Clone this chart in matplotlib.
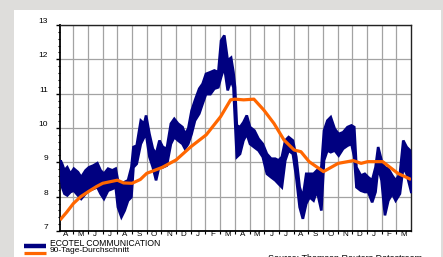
import matplotlib
matplotlib.use("Agg")
import matplotlib.pyplot as plt
from matplotlib.lines import Line2D
from matplotlib.patches import Rectangle
import numpy as np

# ---- data (x in months from start of April, year 1) ----
t = [0.09, 0.2, 0.36, 0.55, 0.77, 1.0, 1.28, 1.5, 1.8, 2.03, 2.32, 2.6, 2.82, 3.05, 3.33, 3.62, 3.85,
     4.0, 4.24, 4.46, 4.69, 4.92, 5.06, 5.28, 5.56, 5.79, 5.92, 6.15, 6.38, 6.6, 6.83, 7.06, 7.33,
     7.61, 7.84, 8.1, 8.4, 8.57, 8.79, 9.02, 9.25, 9.54, 9.77, 10.0, 10.3, 10.57, 10.84, 11.03,
     11.25, 11.48, 11.71, 11.87, 11.98, 12.1, 12.32, 12.55, 12.78, 13.0, 13.3, 13.58, 13.87, 14.15,
     14.44, 14.72, 14.94, 15.17, 15.4, 15.63, 15.92, 16.15, 16.38, 16.6, 16.83, 17.06, 17.33, 17.56,
     17.86, 18.04, 18.27, 18.5, 18.77, 19.04, 19.34, 19.64, 19.91, 20.1, 20.25, 20.55, 20.82, 21.05,
     21.32, 21.55, 21.73, 21.96, 22.19, 22.42, 22.69, 22.92, 23.21, 23.44, 23.67, 23.9, 24.0]
high = [9.07, 8.97, 8.78, 8.87, 8.68, 8.83, 8.73, 8.58, 8.78, 8.87, 8.92, 8.99, 8.78, 8.68, 8.83, 8.78, 8.83,
        8.49, 8.39, 8.44, 8.49, 8.87, 9.46, 9.50, 10.23, 10.14, 10.38, 9.84, 9.41, 9.26, 9.65, 9.46, 9.41,
        10.14, 10.28, 10.14, 10.04, 9.84, 9.99, 10.52, 10.82, 11.16, 11.30, 11.59, 11.64, 11.69, 11.64, 12.56,
        12.71, 11.98, 12.06, 11.64, 11.20, 10.09, 10.04, 10.18, 10.38, 10.04, 9.94, 9.70, 9.55, 9.26,
        9.12, 9.12, 9.07, 9.17, 9.65, 9.75, 9.65, 9.17, 8.29, 7.99, 8.68, 8.68, 8.68, 8.78,
        8.87, 9.94, 10.23, 10.33, 9.99, 9.84, 9.89, 10.04, 10.09, 10.04, 8.87, 8.63, 8.68, 8.58,
        8.49, 8.87, 9.46, 9.07, 8.87, 8.83, 8.63, 8.49, 8.68, 9.65, 9.46, 9.36, 8.58]
low = [8.68, 8.29, 8.10, 8.05, 8.15, 8.19, 8.05, 7.95, 8.10, 8.19, 8.24, 8.29, 8.10, 7.95, 8.19, 8.24, 8.29,
       7.71, 7.42, 7.61, 7.90, 8.00, 8.87, 8.97, 9.55, 9.75, 9.84, 9.17, 8.87, 8.49, 8.92, 8.87, 8.92,
       9.55, 9.75, 9.65, 9.55, 9.41, 9.55, 9.84, 10.23, 10.43, 10.72, 11.00, 11.00, 11.16, 11.20, 11.50,
       11.79, 11.11, 11.40, 11.20, 10.23, 9.17, 9.26, 9.65, 9.84, 9.55, 9.45, 9.36, 9.17, 8.68,
       8.58, 8.49, 8.39, 8.29, 9.07, 9.36, 9.26, 8.58, 7.71, 7.37, 7.81, 8.00, 7.90, 8.19,
       7.61, 9.07, 9.36, 9.31, 9.36, 9.21, 9.41, 9.50, 9.55, 9.17, 8.29, 8.19, 8.15, 8.15,
       7.85, 8.15, 8.87, 8.49, 7.47, 7.90, 8.10, 7.90, 8.10, 8.87, 8.68, 8.29, 8.12]

ma_t = [0.09, 0.55, 1.0, 1.5, 2.03, 2.6, 3.0, 4.0, 4.42, 5.0, 5.56, 6.0, 7.04, 8.0, 9.02, 10.05, 11.03,
        11.71, 12.0, 12.6, 13.3, 13.98, 14.67, 15.35, 16.04, 16.5, 17.06, 18.04, 19.04, 20.07, 20.6,
        21.05, 22.07, 23.1, 24.0]
ma = [7.32, 7.55, 7.8, 8.0, 8.15, 8.3, 8.39, 8.48, 8.4, 8.39, 8.5, 8.68, 8.85, 9.07, 9.46, 9.8, 10.33,
      10.82, 10.84, 10.82, 10.84, 10.52, 10.13, 9.65, 9.36, 9.31, 9.02, 8.73, 8.97, 9.05, 8.97,
      9.02, 9.02, 8.68, 8.5]

month_labels = ["A", "M", "J", "J", "A", "S", "O", "N", "D", "J", "F", "M",
                "A", "M", "J", "J", "A", "S", "O", "N", "D", "J", "F", "M"]
y_ticks = [7, 8, 9, 10, 11, 12, 13]
series_names = ["ECOTEL COMMUNICATION", "90-Tage-Durchschnitt"]
source_text = "Source: Thomson Reuters Datastream"

BLUE = "#000080"
ORANGE = "#ff6600"
W, H = 443, 257

plt.rcParams['font.family'] = ['Liberation Sans', 'DejaVu Sans']
fig = plt.figure(figsize=(W / 100, H / 100), dpi=100)
fig.patch.set_facecolor("#dedddb")
fig.add_artist(Rectangle((14 / W, 0), (441 - 14) / W, 1 - 10 / H, transform=fig.transFigure,
                         facecolor="white", edgecolor="none", zorder=0))

ax = fig.add_axes([60 / W, 1 - 231 / H, (411 - 60) / W, (231 - 25) / H])
ax.set_facecolor("white")

ax.fill_between(t, low, high, color=BLUE, lw=1.9, edgecolor=BLUE, zorder=3, joinstyle='miter')
ax.plot(ma_t, ma, color=ORANGE, lw=2.3, zorder=4, solid_capstyle='butt')

ax.set_xlim(0.09, 24.0)
ax.set_ylim(7, 13)

ax.set_xticks(np.arange(1, 24))
ax.set_xticks(np.arange(len(month_labels)) + 0.5, minor=True)
ax.set_xticklabels([], minor=False)
ax.set_xticklabels(month_labels, minor=True)
ax.tick_params(axis='x', which='major', direction='out', length=2.5, width=0.8, color='black')
ax.tick_params(axis='x', which='minor', length=0, pad=0.2, labelsize=5.8)

ax.set_yticks(y_ticks)
ax.set_yticks(np.arange(7, 13.01, 0.2), minor=True)
ax.tick_params(axis='y', which='major', direction='out', length=3, width=1.0, labelsize=6.0, pad=5.5)
ax.tick_params(axis='y', which='minor', direction='out', length=1.8, width=0.8)
for lab in ax.get_yticklabels():
    lab.set_verticalalignment('bottom')

ax.grid(True, which='major', color='#a3a3a3', lw=0.9, zorder=1)

for side in ['left', 'bottom']:
    ax.spines[side].set_linewidth(1.3)
    ax.spines[side].set_color('black')
for side in ['top', 'right']:
    ax.spines[side].set_linewidth(1.0)
    ax.spines[side].set_color('#222222')

# legend
fig.add_artist(Line2D([24 / W, 46 / W], [1 - 245.5 / H] * 2, color=BLUE, lw=3.2,
                      transform=fig.transFigure, solid_capstyle='butt'))
fig.add_artist(Line2D([24 / W, 46 / W], [1 - 252.5 / H] * 2, color=ORANGE, lw=2.3,
                      transform=fig.transFigure, solid_capstyle='butt'))
fig.text(50 / W, 1 - 243 / H, series_names[0], fontsize=6.2, va='center', ha='left')
fig.text(50 / W, 1 - 250.5 / H, series_names[1], fontsize=6.0, va='center', ha='left')
fig.text(422 / W, 1 - 254 / H, source_text, fontsize=6.5, va='top', ha='right')

fig.savefig("out.png", dpi=100, facecolor=fig.get_facecolor())
